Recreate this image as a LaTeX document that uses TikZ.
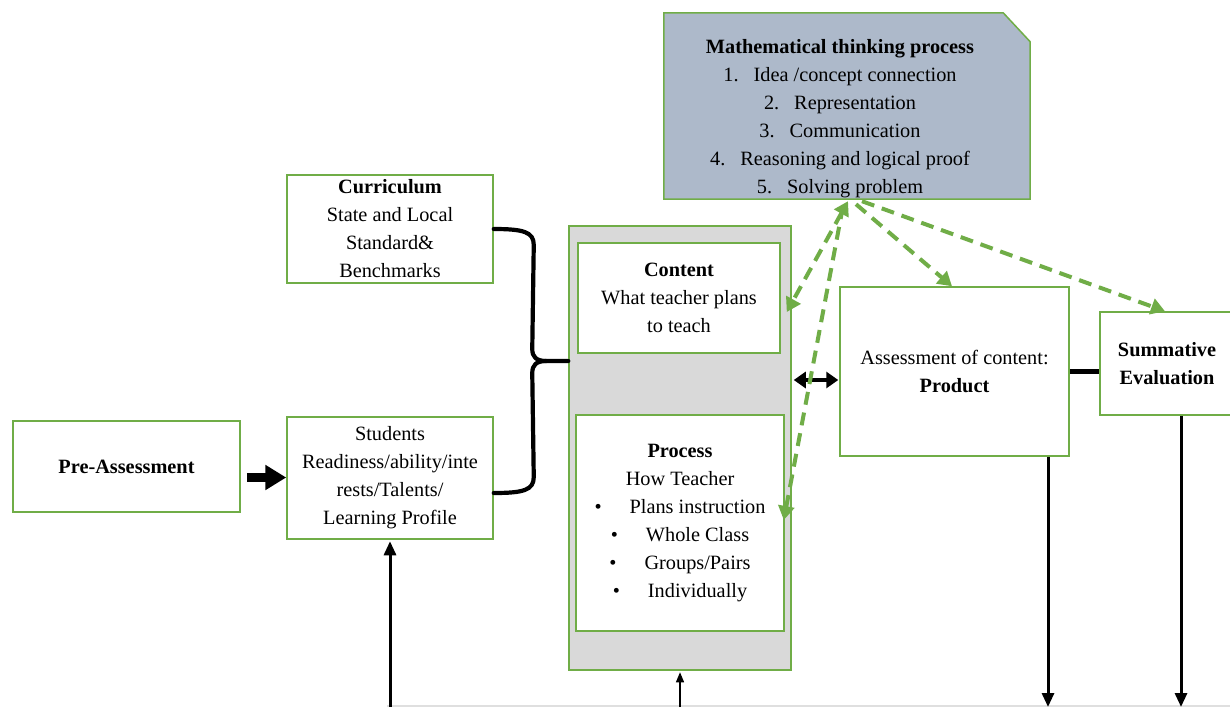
\documentclass[tikz,border=0pt]{standalone}
\usepackage{fontspec}
\setmainfont{Liberation Serif}
\usetikzlibrary{arrows.meta,calc}
\definecolor{grn}{HTML}{70AD47}
\definecolor{mtfill}{HTML}{ADB9CA}
\definecolor{boxgray}{HTML}{D9D9D9}
\begin{document}
\begin{tikzpicture}[x=1pt,y=-1pt,
  txtfont/.style={font=\fontsize{20.3}{28}\selectfont},
  box/.style={draw=grn,line width=1.5pt,fill=white,inner sep=0pt,align=center,txtfont},
  gdash/.style={draw=grn,line width=4pt,dash pattern=on 13pt off 8pt},
  gtip/.style={-{Triangle[length=14pt,width=16pt]}},
  gdtip/.style={{Triangle[length=14pt,width=16pt]}-{Triangle[length=14pt,width=16pt]}},
  blkarrow/.style={line width=3pt,-{Triangle[length=14pt,width=12pt]}},
  thinarrow/.style={line width=1.2pt,-{Triangle[length=10pt,width=8pt]}},
  fatarrow/.style={line width=9pt,-{Triangle[length=21pt,width=24pt]}},
  dblarrow/.style={line width=4pt,{Triangle[length=12pt,width=16pt]}-{Triangle[length=12pt,width=16pt]}},
  brace/.style={line width=4.2pt,line cap=round,line join=round},
]
\useasboundingbox (0,0) rectangle (1230,707);
\clip (0,0) rectangle (1230,707);
\fill[white] (0,0) rectangle (1230,707);

% Mathematical thinking process box
\node[inner sep=0pt,minimum width=366pt,minimum height=186pt] (mtp) at (847,106) {};
\filldraw[fill=mtfill,draw=grn,line width=1.5pt]
  (mtp.north west) -- ($(mtp.north east)+(-27,0)$) -- ($(mtp.north east)+(0,29)$)
  -- (mtp.south east) -- (mtp.south west) -- cycle;
\node[txtfont,align=center,inner sep=0pt] (mtt) at (840,118.5)
  {{\bfseries Mathematical thinking process}\\
   1.\hspace{15pt}Idea /concept connection\\
   2.\hspace{15pt}Representation\\
   3.\hspace{15pt}Communication\\
   4.\hspace{15pt}Reasoning and logical proof\\
   5.\hspace{15pt}Solving problem};

% Left boxes
\node[box,minimum width=206pt,minimum height=108pt] (cur) at (390,229)
  {{\bfseries Curriculum}\\State and Local\\Standard\&\\Benchmarks};
\node[box,minimum width=227pt,minimum height=91pt] (pre) at (126.5,466.5)
  {{\bfseries Pre-Assessment}};
\node[box,minimum width=206pt,minimum height=122pt] (stu) at (390,478)
  {Students\\Readiness/ability/inte\\rests/Talents/\\Learning Profile};

% Central gray box
\node[draw=grn,line width=1.5pt,fill=boxgray,inner sep=0pt,minimum width=222pt,minimum height=444pt] (gray) at (680,448) {};
\node[box,minimum width=202pt,minimum height=110pt] (con) at (679,298)
  {{\bfseries Content}\\What teacher plans\\to teach};
\node[box,minimum width=208pt,minimum height=216pt] (proc) at (680,523)
  {{\bfseries Process}\\How Teacher\\
   \textbullet\hspace{28pt}Plans instruction\\
   \textbullet\hspace{28pt}Whole Class\\
   \textbullet\hspace{28pt}Groups/Pairs\\
   \textbullet\hspace{28pt}Individually};

% Right boxes
\node[box,minimum width=229pt,minimum height=169pt] (prod) at (954.5,371.5)
  {Assessment of content:\\{\bfseries Product}};
\node[box,minimum width=134pt,minimum height=103pt] (summ) at (1167,363.5)
  {{\bfseries Summative}\\{\bfseries Evaluation}};

% Brace
\coordinate (bt) at (cur.east);
\coordinate (bb) at ($(stu.east)+(0,15)$);
\coordinate (btip) at ($(gray.west)+(0,-87)$);
\draw[brace] (bt) .. controls +(30,0) and +(0,-13) .. ($(bt)+(40,16)$)
  -- ($(btip)+(-36,-12)$) .. controls +(0,8) and +(-10,0) .. ($(btip)+(-22,0)$) -- (btip);
\draw[brace] ($(btip)+(-22,0)$) .. controls +(-10,0) and +(0,-8) .. ($(btip)+(-36,12)$)
  -- ($(bb)+(40,-16)$) .. controls +(0,13) and +(30,0) .. (bb);

% Pre-assessment arrow
\coordinate (pa) at ($(pre.east)+(6,11)$);
\draw[fatarrow] (pa) -- (pa -| stu.west);

% Double arrow gray box <-> product
\coordinate (dr) at ($(prod.west)+(-1,8.5)$);
\draw[dblarrow] ($(gray.east |- dr)+(2,0)$) -- (dr);

% Product - Summative
\draw[line width=5.5pt] (prod.east) -- (summ.west |- prod.east);

% Bottom lines and arrows
\coordinate (bl) at (387,705.8);
\coordinate (br) at (1230,705.8);
\draw[gray!25,line width=1.6pt] (bl) -- (br);
\coordinate (bu1) at (390,707);
\coordinate (bu2) at (680,707);
\coordinate (bd1) at (1048,707);
\coordinate (bd2) at (1181,707);
\draw[blkarrow] (bu1) -- ($(stu.south)+(0,1.5)$);
\draw[thinarrow] (bu2) -- ($(gray.south)+(0,1.5)$);
\draw[blkarrow] (bd1 |- prod.south) -- (bd1);
\draw[blkarrow] (bd2 |- summ.south) -- (bd2);

% Green dashed arrows
\coordinate (s1) at ($(mtp.south)+(1,2)$);
\coordinate (s2) at ($(mtp.south)+(-4,7)$);
\coordinate (s3) at ($(mtp.south)+(9,5)$);
\coordinate (s4) at ($(mtp.south)+(15,2)$);
\draw[gdash,gdtip] (s1) -- ($(con.east)+(6,14)$);
\draw[gdash,gtip] (s2) -- ($(proc.east)+(-1,-3)$);
\draw[gdash,gtip] (s3) -- ($(prod.north)+(-2.5,0)$);
\draw[gdash,gtip] (s4) -- ($(summ.north)+(-2,0)$);
\end{tikzpicture}
\end{document}
